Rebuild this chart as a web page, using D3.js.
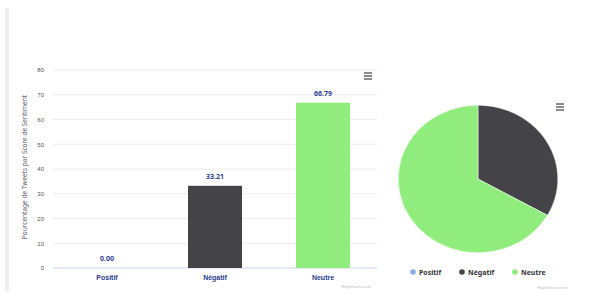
<!DOCTYPE html>
<html>
<head>
<meta charset="utf-8">
<script src="https://cdn.jsdelivr.net/npm/d3@7"></script>
<style>
  body { margin: 0; background: #fff; }
  svg { display: block; font-family: "Noto Sans", "DejaVu Sans", sans-serif; }
</style>
</head>
<body>
<svg id="chart" width="614" height="301"></svg>
<script>
// data
const categories = ["Positif", "Négatif", "Neutre"];
const values = [0.00, 33.21, 66.79];
const colors = ["#8fa8e8", "#434348", "#90ed7d"];
const yTicks = [0, 10, 20, 30, 40, 50, 60, 70, 80];
const yTitle = "Pourcentage de Tweets par Score de Sentiment";

const svg = d3.select("#chart");

// left gray strip
svg.append("rect").attr("x", 5).attr("y", 8).attr("width", 4).attr("height", 284).attr("fill", "#f0f0f0");

// ---- bar chart ----
const plot = { left: 53, right: 377, top: 70, bottom: 268 };
const x = d3.scaleBand().domain(categories).range([plot.left, plot.right]).paddingInner(0.5).paddingOuter(0.25);
const y = d3.scaleLinear().domain([0, 80]).range([plot.bottom, plot.top]);

const grid = svg.append("g");
grid.selectAll("line").data(yTicks).enter().append("line")
  .attr("x1", plot.left).attr("x2", plot.right)
  .attr("y1", d => y(d)).attr("y2", d => y(d))
  .attr("stroke", d => d === 0 ? "#ccd6eb" : "#ececec").attr("stroke-width", 1);

const yAxis = svg.append("g").attr("transform", `translate(${plot.left - 9},0)`)
  .call(d3.axisLeft(y).tickValues(yTicks).tickSize(0).tickPadding(0));
yAxis.select(".domain").remove();
yAxis.selectAll("text").attr("fill", "#555").style("font-size", "6px");

svg.append("text")
  .attr("transform", `translate(27,${(plot.top + plot.bottom) / 2 - 2}) rotate(-90)`)
  .attr("text-anchor", "middle").attr("fill", "#666").style("font-size", "6.5px")
  .text(yTitle);

svg.selectAll("rect.bar").data(values).enter().append("rect")
  .attr("class", "bar")
  .attr("x", (d, i) => x(categories[i]))
  .attr("width", x.bandwidth())
  .attr("y", d => y(d))
  .attr("height", d => y(0) - y(d))
  .attr("fill", (d, i) => colors[i]);

svg.selectAll("text.dl").data(values).enter().append("text")
  .attr("class", "dl")
  .attr("x", (d, i) => x(categories[i]) + x.bandwidth() / 2)
  .attr("y", d => y(d) - 7)
  .attr("text-anchor", "middle").attr("fill", "#2f3f8f")
  .style("font-size", "7px").style("font-weight", "bold")
  .text(d => d.toFixed(2));

const xAxis = svg.append("g").attr("transform", `translate(0,${plot.bottom})`)
  .call(d3.axisBottom(x).tickSize(0).tickPadding(7));
xAxis.select(".domain").remove();
xAxis.selectAll("text").attr("fill", "#2a3a8c").style("font-size", "7px").style("font-weight", "bold");

// menu icons
function menu(cx, cy) {
  const g = svg.append("g");
  [-3, 0, 3].forEach(o => g.append("rect").attr("x", cx - 4).attr("y", cy + o - 0.75)
    .attr("width", 8).attr("height", 1.5).attr("fill", "#666"));
}
menu(368, 76);
menu(560, 107);

// credits
svg.append("text").attr("x", 371).attr("y", 288).attr("text-anchor", "end")
  .attr("fill", "#bbb").style("font-size", "4px").text("Highcharts.com");
svg.append("text").attr("x", 567).attr("y", 289).attr("text-anchor", "end")
  .attr("fill", "#bbb").style("font-size", "4px").text("Highcharts.com");

// ---- pie ----
const pie = d3.pie().sort(null).value(d => d);
const arc = d3.arc().innerRadius(0).outerRadius(76);
const pg = svg.append("g").attr("transform", "translate(478,179) scale(1.05,0.97)");
pg.selectAll("path").data(pie(values)).enter().append("path")
  .attr("d", arc)
  .attr("fill", (d, i) => colors[i])
  .attr("stroke", "#fff").attr("stroke-width", 0.5);

// legend
const legX = [413, 462, 515];
const lg = svg.append("g");
categories.forEach((c, i) => {
  lg.append("circle").attr("cx", legX[i]).attr("cy", 272).attr("r", 2.8).attr("fill", colors[i]);
  lg.append("text").attr("x", legX[i] + 6).attr("y", 274.5)
    .attr("fill", "#333").style("font-size", "7px").style("font-weight", "bold").text(c);
});
</script>
</body>
</html>
